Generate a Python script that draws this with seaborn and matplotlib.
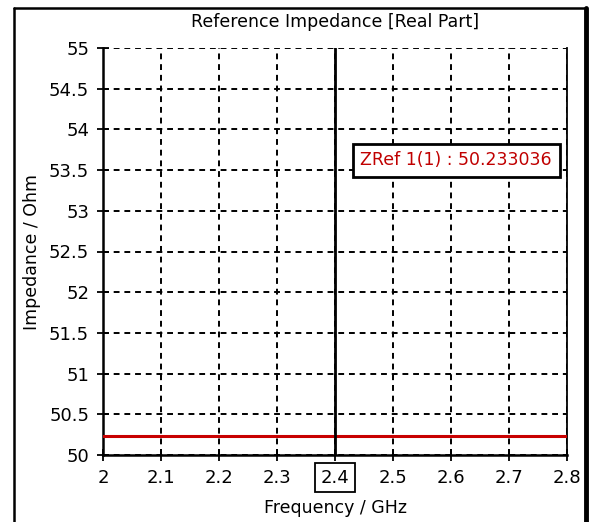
import numpy as np
import pandas as pd
import matplotlib
matplotlib.use("Agg")
import matplotlib.pyplot as plt
import seaborn as sns
from matplotlib.lines import Line2D

# Data
freq = [2.0, 2.8]
zref = [50.233036, 50.233036]
marker_freq = 2.4
marker_label = "ZRef 1(1) : 50.233036"
xticks = [2.0, 2.1, 2.2, 2.3, 2.4, 2.5, 2.6, 2.7, 2.8]
xticklabels = ["2", "2.1", "2.2", "2.3", "2.4", "2.5", "2.6", "2.7", "2.8"]
yticks = [50, 50.5, 51, 51.5, 52, 52.5, 53, 53.5, 54, 54.5, 55]
yticklabels = ["50", "50.5", "51", "51.5", "52", "52.5", "53", "53.5", "54", "54.5", "55"]

sns.set_theme(style="white")
plt.rcParams['font.family'] = ['DejaVu Sans']

W, H = 592, 522
fig = plt.figure(figsize=(W / 100, H / 100), dpi=100)
ax = fig.add_axes([103 / W, 1 - 455 / H, (567 - 103) / W, (455 - 48) / H])

df = pd.DataFrame({"freq": freq, "zref": zref})
sns.lineplot(data=df, x="freq", y="zref", ax=ax, color="#c80000", linewidth=2.2, zorder=4)

ax.set_xlim(2.0, 2.8)
ax.set_ylim(50, 55)
ax.set_xticks(xticks)
ax.set_xticklabels(xticklabels)
ax.set_yticks(yticks)
ax.set_yticklabels(yticklabels)

ax.grid(True, color="black", linestyle=(0, (3, 2.5)), linewidth=1.4)
ax.tick_params(axis="both", which="major", direction="inout", length=8, width=1.3,
               color="black", labelsize=13, labelcolor="black", pad=6,
               bottom=True, left=True)

for s in ["left", "bottom"]:
    ax.spines[s].set_color("black")
    ax.spines[s].set_linewidth(1.8)
ax.spines["right"].set_color("black")
ax.spines["right"].set_linewidth(1.3)
ax.spines["top"].set_visible(False)

# marker line
ax.axvline(marker_freq, color="black", linewidth=2, zorder=5)
# box around 2.4 tick label
for lbl in ax.get_xticklabels():
    if lbl.get_text() == "2.4":
        lbl.set_bbox(dict(boxstyle="square,pad=0.3", facecolor="white", edgecolor="black", linewidth=1.3))

ax.text(2.609, 53.62, marker_label, color="#c00000", fontsize=12.5, ha="center", va="center",
        zorder=6, bbox=dict(boxstyle="square,pad=0.45", facecolor="white", edgecolor="black", linewidth=2))

ax.set_title("Reference Impedance [Real Part]", fontsize=12.5, color="black", pad=15)
ax.set_xlabel("Frequency / GHz", fontsize=12.5, color="black", labelpad=9)
ax.set_ylabel("Impedance / Ohm", fontsize=12.5, color="black", labelpad=6)

# outer frame
fig.add_artist(Line2D([14 / W, 14 / W], [0, 1 - 8 / H], color="black", linewidth=1.8, transform=fig.transFigure))
fig.add_artist(Line2D([14 / W, 586 / W], [1 - 8 / H, 1 - 8 / H], color="black", linewidth=1.8, transform=fig.transFigure))
fig.add_artist(Line2D([586 / W, 586 / W], [0, 1 - 8 / H], color="black", linewidth=3.5, transform=fig.transFigure))

fig.savefig("out.png", dpi=100, facecolor="white")
